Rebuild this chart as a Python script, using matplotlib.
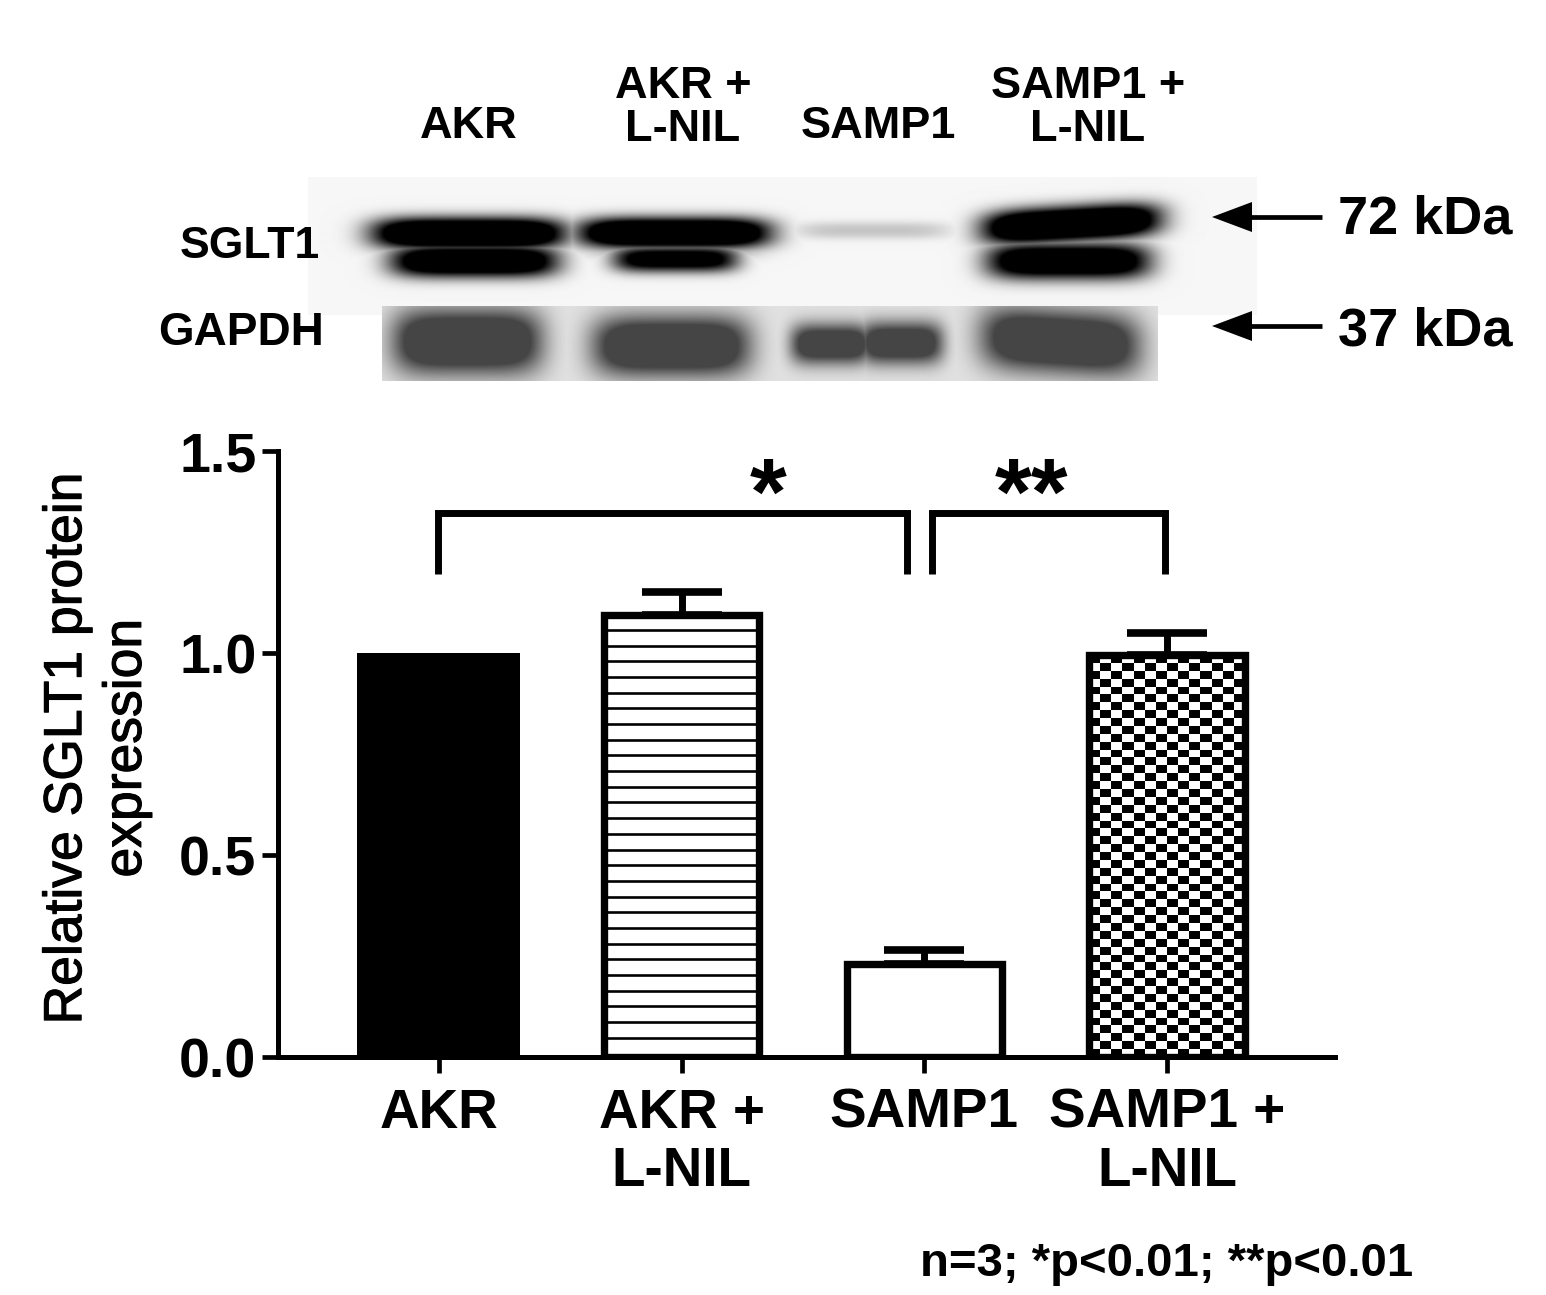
import numpy as np
import matplotlib
matplotlib.use("Agg")
import matplotlib.pyplot as plt
import matplotlib.patheffects as pe
from matplotlib.patches import Polygon

plt.rcParams['font.family'] = ['Liberation Sans', 'DejaVu Sans']
plt.rcParams['font.weight'] = 'bold'

W, H = 1546, 1295
groups = ["AKR", "AKR +\nL-NIL", "SAMP1", "SAMP1 +\nL-NIL"]
values = [1.0, 1.095, 0.23, 0.995]
errors = [0.0, 0.055, 0.035, 0.055]
y_ticks = [0.0, 0.5, 1.0, 1.5]
y_tick_labels = ["0.0", "0.5", "1.0", "1.5"]
brackets = [(-0.005, 1.93, 1.195, 1.347), (2.03, 2.99, 1.195, 1.347)]
stars = [("*", 1.356), ("**", 2.44)]

blot_top_labels = ["AKR", "AKR +\nL-NIL", "SAMP1", "SAMP1 +\nL-NIL"]
sglt1_bands = [  # x0, x1, y0, y1, darkness, tilt
    (372, 565, 218, 249, 1.70, 0), (378, 562, 228, 256, 0.55, 0), (390, 558, 245, 277, 1.50, 0),
    (578, 770, 218, 248, 1.70, 0), (585, 765, 230, 256, 0.50, 0), (612, 738, 246, 272, 1.25, 0),
    (795, 950, 222, 239, 0.20, 0),
    (982, 1160, 207, 241, 1.70, -5), (986, 1150, 243, 279, 1.45, 0),
]
gapdh_bands = [
    (392, 542, 308, 374, 1.05, 0), (592, 750, 315, 376, 1.05, 0),
    (790, 872, 323, 364, 0.95, 0), (858, 943, 321, 364, 0.95, 0),
    (980, 1140, 309, 373, 1.02, 5),
]

fig = plt.figure(figsize=(W / 100, H / 100), dpi=100, facecolor='white')


def band_layer(xx, yy, x0, x1, y0, y1, dark, tilt):
    cx, cy = (x0 + x1) / 2, (y0 + y1) / 2
    rx, ry = (x1 - x0) / 2, (y1 - y0) / 2
    yt = yy - cy - tilt * (xx - cx) / rx
    d = (np.abs(xx - cx) / rx) ** 5 + (np.abs(yt) / ry) ** 2.4
    return dark * np.exp(-d)


def blot(x0, x1, y0, y1, bands, bg, floor):
    yy, xx = np.mgrid[y0:y1, x0:x1].astype(float)
    dark = np.zeros_like(xx)
    for b in bands:
        dark = np.maximum(dark, band_layer(xx, yy, *b))
    img = np.clip(bg * (1 - dark), floor, 1)
    ax_b = fig.add_axes([x0 / W, 1 - y1 / H, (x1 - x0) / W, (y1 - y0) / H], zorder=0)
    ax_b.imshow(img, cmap='gray', vmin=0, vmax=1, aspect='auto', interpolation='bilinear')
    ax_b.axis('off')


blot(308, 1257, 177, 315, sglt1_bands, 0.965, 0.0)
blot(382, 1158, 306, 381, gapdh_bands, 0.88, 0.27)

# Bar chart
ax = fig.add_axes([278 / W, 1 - 1057 / H, (1335 - 278) / W, (1057 - 451) / H], zorder=2)
ax.patch.set_alpha(0)
x = np.arange(len(groups))
bar_w = 0.64
lw = 5.3

ax.bar(x[0], values[0], 0.672, color='black', linewidth=0, zorder=3)
ax.bar(x[1:], values[1:], bar_w, color='white', edgecolor='none', zorder=2)
ax.bar(x[1:], values[1:], bar_w, color='none', edgecolor='black', linewidth=lw, zorder=5)

# horizontal line fill
ax.hlines(np.arange(0.048, values[1] - 0.02, 0.0388), x[1] - bar_w / 2, x[1] + bar_w / 2,
          color='black', linewidth=1.9, zorder=3)

# checker fill
nx, ny = 14, 51
checker = np.indices((ny, nx)).sum(axis=0) % 2
ax.imshow(checker, cmap='gray', vmin=0, vmax=1, aspect='auto', interpolation='nearest',
          extent=(x[3] - bar_w / 2, x[3] + bar_w / 2, 0, values[3]), zorder=3)
ax.set_xlim(-0.663, 3.692)
ax.set_ylim(0, 1.5)

for xi, v, e in zip(x, values, errors):
    if e > 0:
        ax.errorbar(xi, v, yerr=[[0], [e]], color='black', elinewidth=5, capsize=29,
                    capthick=5.5, zorder=4, fmt='none')

for x0, x1, y0, y1 in brackets:
    ax.plot([x0, x0, x1, x1], [y0, y1, y1, y0], color='black', linewidth=5,
            solid_joinstyle='miter', solid_capstyle='butt', zorder=4)
for star, sx in stars:
    ax.text(sx, 1.32, star, ha='center', va='baseline', fontsize=68, fontweight='bold', zorder=4)

for s in ['top', 'right']:
    ax.spines[s].set_visible(False)
for s in ['left', 'bottom']:
    ax.spines[s].set_linewidth(3.6)
ax.set_xticks(x)
ax.set_xticklabels(groups, fontsize=39.5, fontweight='bold', linespacing=1.15)
ax.set_yticks(y_ticks)
ax.set_yticklabels(y_tick_labels, fontsize=40, fontweight='bold')
ax.tick_params(axis='both', length=11.5, width=3.4)
ax.tick_params(axis='x', pad=10.5)
ax.tick_params(axis='y', pad=4)
ax.set_ylabel("Relative SGLT1 protein\nexpression", fontsize=38.5, fontweight='normal', linespacing=1.25,
              va='center', ha='center',
              path_effects=[pe.withStroke(linewidth=0.8, foreground='black')])
ax.yaxis.set_label_coords((97 - 278) / 1057, (1057 - 748) / 606)

# Annotation overlay in reference pixel space
ov = fig.add_axes([0, 0, 1, 1], zorder=3)
ov.set_xlim(0, W)
ov.set_ylim(H, 0)
ov.axis('off')
for cx, label in zip([469, 683, 878, 1088], blot_top_labels):
    ov.text(cx, 126 if "\n" not in label else 108, label, ha='center', va='center', fontsize=32.5,
            linespacing=1.05, fontweight='bold')
ov.text(250, 247, "SGLT1", ha='center', va='center', fontsize=32)
ov.text(241, 333, "GAPDH", ha='center', va='center', fontsize=33)
for yc, lab, ly in [(217, "72 kDa", 220), (326, "37 kDa", 331)]:
    ov.plot([1245, 1322], [yc, yc], color='black', lw=3.4, solid_capstyle='butt')
    ov.add_patch(Polygon([(1212, yc), (1252, yc - 15), (1252, yc + 15)], closed=True,
                         facecolor='black', edgecolor='none'))
    ov.text(1338, ly, lab, ha='left', va='center', fontsize=39)
ov.text(920, 1264, "n=3; *p<0.01; **p<0.01", ha='left', va='center', fontsize=34)

fig.savefig("out.png", dpi=100, facecolor='white')
